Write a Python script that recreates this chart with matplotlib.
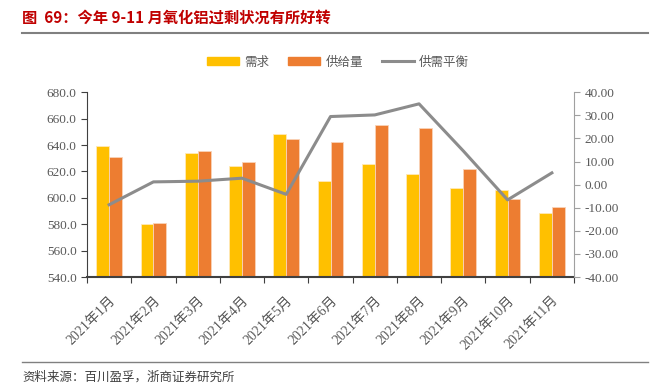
import numpy as np
import matplotlib
matplotlib.use('Agg')
import matplotlib.pyplot as plt
from matplotlib.lines import Line2D
from matplotlib.patches import Patch

# 数据
months = ['2021年1月', '2021年2月', '2021年3月', '2021年4月', '2021年5月', '2021年6月',
          '2021年7月', '2021年8月', '2021年9月', '2021年10月', '2021年11月']
demand = [639.2, 580.0, 633.9, 624.0, 648.4, 612.9, 625.3, 617.7, 607.3, 605.8, 588.3]
supply = [630.6, 581.3, 635.7, 626.8, 644.3, 642.3, 655.4, 652.7, 622.0, 599.0, 593.4]
balance = [-8.7, 1.2, 1.5, 2.8, -4.2, 29.5, 30.2, 35.0, 14.6, -6.6, 5.1]

SERIF = ['Liberation Serif', 'Noto Sans CJK SC']
CJK = ['Noto Sans CJK SC', 'DejaVu Sans']
TXT = '#595959'

fig = plt.figure(figsize=(6.56, 3.9), dpi=100)
ax = fig.add_axes([87/656, 1-277/390, (574-87)/656, (277-92.3)/390])

x = np.arange(len(months))
w = 0.29
ax.bar(x - w/2, demand, w, color='#FFC000', edgecolor='#FFE9B8', linewidth=0.6, zorder=2)
ax.bar(x + w/2, supply, w, color='#ED7D31', edgecolor='#F9D3B8', linewidth=0.6, zorder=2)
ax.set_ylim(540, 680)
ax.set_xlim(-0.5, len(months) - 0.5)
ax.set_yticks(np.arange(540, 681, 20))
ax.set_yticklabels(['%.1f' % v for v in np.arange(540, 681, 20)], family=SERIF, fontsize=9.5, color=TXT)

# x轴：刻度在类别边界，标签在中心
ax.set_xticks(np.arange(-0.5, len(months), 1.0))
ax.set_xticklabels([])
ax.set_xticks(x, minor=True)
ax.set_xticklabels(months, minor=True, rotation=45, ha='right', rotation_mode='anchor',
                   family=SERIF, fontsize=10, color=TXT)
ax.tick_params(axis='x', which='major', direction='out', length=4, color='#404040')
ax.tick_params(axis='x', which='minor', length=0, pad=12)
ax.tick_params(axis='y', direction='out', length=4, color='#404040')

ax.spines['top'].set_visible(False)
ax.spines['right'].set_visible(False)
ax.spines['bottom'].set_color('#404040')
ax.spines['bottom'].set_linewidth(1.5)
ax.spines['bottom'].set_zorder(3)
ax.spines['left'].set_color('#404040')

ax2 = ax.twinx()
ax2.plot(x, balance, color='#8C8C8C', lw=2.2, zorder=4)
ax2.set_ylim(-40, 40)
ax2.set_yticks(np.arange(-40, 41, 10))
ax2.set_yticklabels(['%.2f' % v for v in np.arange(-40, 41, 10)], family=SERIF, fontsize=9.5, color=TXT)
ax2.tick_params(axis='y', direction='out', length=4, color='#A0A0A0')
for s in ['top', 'left', 'bottom']:
    ax2.spines[s].set_visible(False)
ax2.spines['right'].set_color('#A0A0A0')

# 图例
handles = [Patch(color='#FFC000'), Patch(color='#ED7D31'), Line2D([], [], color='#8C8C8C', lw=2.2)]
leg = fig.legend(handles, ['需求', '供给量', '供需平衡'], loc='center', ncol=3,
                 bbox_to_anchor=(0.515, 1-62/390), frameon=False, handlelength=2.6,
                 handleheight=0.6, columnspacing=1.5, handletextpad=0.4,
                 prop={'family': CJK, 'size': 9})
for t in leg.get_texts():
    t.set_color(TXT)

# 标题与来源
fig.text(22/656, 1-18/390, '图  69：今年 9-11 月氧化铝过剩状况有所好转', family=CJK,
         fontsize=11, fontweight='bold', color='#C00000', ha='left', va='center')
fig.add_artist(Line2D([22/656, 648/656], [1-33/390]*2, color='#808080', lw=1.5))
fig.add_artist(Line2D([22/656, 648/656], [1-362/390]*2, color='#808080', lw=1.0))
fig.text(22/656, 1-377/390, '资料来源：百川盈孚，浙商证券研究所', family=CJK,
         fontsize=9, color='#404040', ha='left', va='center')

fig.savefig('out.png', dpi=100)
